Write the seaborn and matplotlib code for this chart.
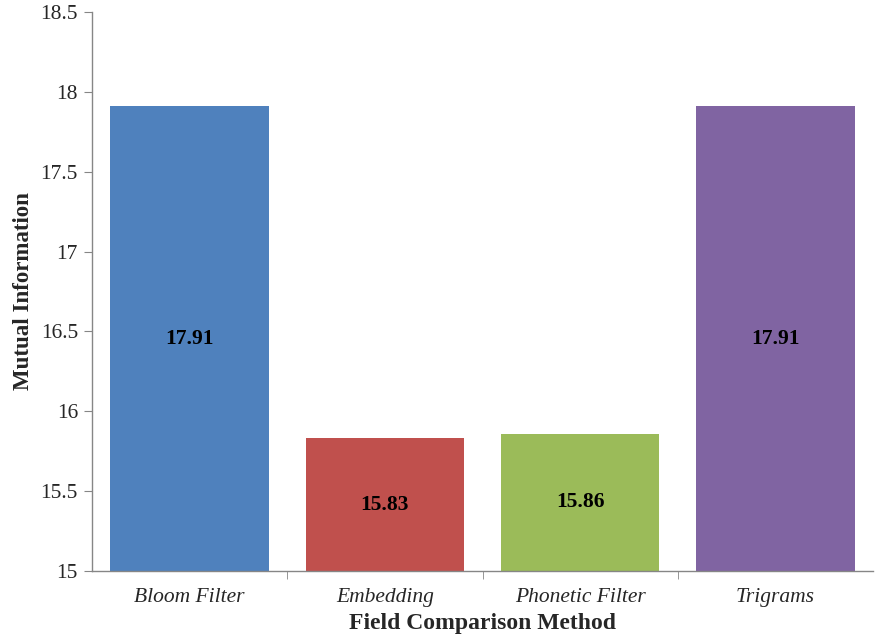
import matplotlib
matplotlib.use("Agg")
import matplotlib.pyplot as plt
import seaborn as sns
import pandas as pd
import numpy as np
from matplotlib.ticker import FixedLocator

methods = ["Bloom Filter", "Embedding", "Phonetic Filter", "Trigrams"]
values = [17.91, 15.83, 15.86, 17.91]
colors = ["#4F81BD", "#C0504D", "#9BBB59", "#8064A2"]
yticks = [15, 15.5, 16, 16.5, 17, 17.5, 18, 18.5]
ytick_labels = ["15", "15.5", "16", "16.5", "17", "17.5", "18", "18.5"]

sns.set_style("white")
plt.rcParams["font.family"] = ["Liberation Serif", "DejaVu Serif"]

df = pd.DataFrame({"method": methods, "value": values})

fig = plt.figure(figsize=(8.75, 6.4), dpi=100)
ax = fig.add_axes([0.105, 0.108, 0.893, 0.873])

sns.barplot(data=df, x="method", y="value", hue="method", palette=colors,
            width=0.81, legend=False, ax=ax, saturation=1, edgecolor="none")

ax.set_ylim(15, 18.5)
ax.set_xlim(-0.5, len(methods) - 0.5)
ax.set_yticks(yticks)
ax.set_yticklabels(ytick_labels, fontsize=15.5)
ax.set_xticks(range(len(methods)))
ax.set_xticklabels(methods, fontsize=15.5, style="italic")
ax.xaxis.set_minor_locator(FixedLocator([i + 0.5 for i in range(len(methods) - 1)]))

grey = "#868686"
for s in ["top", "right"]:
    ax.spines[s].set_visible(False)
for s in ["left", "bottom"]:
    ax.spines[s].set_color(grey)
    ax.spines[s].set_linewidth(1)
ax.tick_params(axis="y", which="major", length=6, color=grey, direction="out", left=True, pad=4)
ax.tick_params(axis="x", which="major", length=0, pad=12)
ax.tick_params(axis="x", which="minor", length=6, color=grey, direction="out", bottom=True)

for i, v in enumerate(values):
    ax.text(i, (15 + v) / 2, f"{v:.2f}", ha="center", va="center",
            fontsize=15.5, fontweight="bold", color="black")

ax.set_xlabel("Field Comparison Method", fontsize=17, fontweight="bold", labelpad=5)
ax.set_ylabel("Mutual Information", fontsize=16.5, fontweight="bold", labelpad=5)

fig.savefig("out.png", dpi=100)
